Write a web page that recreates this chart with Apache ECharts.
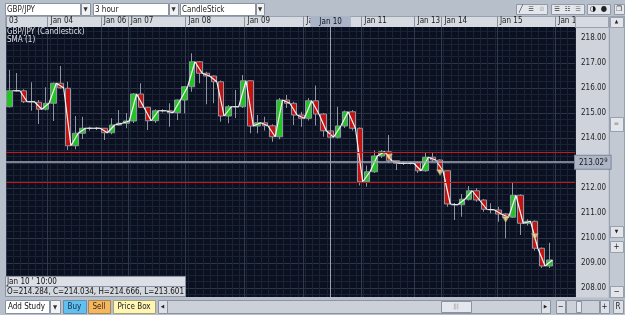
<!DOCTYPE html>
<html>
<head>
<meta charset="utf-8">
<script src="https://cdn.jsdelivr.net/npm/echarts@6/dist/echarts.min.js"></script>
<style>
html, body { margin: 0; padding: 0; background: #b7bfcb; }
#chart { width: 625px; height: 315px; }
</style>
</head>
<body>
<div id="chart"></div>
<script>
// 3 hour GBP/JPY candles, [open, close, low, high]
var ohlc = [
  [215.25, 215.89, 215.22, 216.72], [215.89, 215.89, 215.85, 216.60], [215.89, 215.45, 215.40, 215.95],
  [215.45, 215.45, 215.09, 216.23], [215.43, 215.15, 214.56, 215.52], [215.15, 215.39, 215.10, 216.03],
  [215.39, 216.19, 214.68, 216.22], [216.19, 216.01, 215.98, 216.88], [215.99, 213.69, 213.52, 216.25],
  [213.69, 214.19, 213.55, 214.88], [214.19, 214.39, 213.96, 214.85], [214.39, 214.39, 214.30, 214.45],
  [214.39, 214.39, 214.32, 214.44], [214.39, 214.21, 213.92, 214.40], [214.21, 214.52, 214.15, 214.79],
  [214.52, 214.59, 214.50, 215.12], [214.59, 214.68, 214.39, 214.99], [214.68, 215.76, 214.60, 215.80],
  [215.76, 215.23, 215.20, 216.19], [215.23, 214.69, 214.32, 215.25], [214.69, 215.09, 214.60, 215.15],
  [215.09, 215.09, 215.02, 215.15], [215.09, 215.01, 214.45, 215.39], [215.01, 215.52, 214.72, 215.55],
  [215.52, 216.05, 214.99, 216.08], [216.05, 217.05, 215.85, 217.39], [217.05, 216.59, 216.19, 217.08],
  [216.59, 216.48, 215.35, 216.65], [216.48, 216.25, 215.39, 216.50], [216.25, 214.88, 214.65, 216.30],
  [214.88, 215.25, 214.59, 215.32], [215.25, 215.25, 214.80, 215.92], [215.25, 216.29, 215.20, 216.52],
  [216.29, 214.48, 214.19, 216.30], [214.48, 214.61, 214.19, 214.92], [214.61, 214.49, 214.30, 214.85],
  [214.49, 214.05, 213.85, 214.55], [214.05, 215.52, 213.95, 215.60], [215.52, 215.39, 215.20, 215.72],
  [215.39, 214.92, 214.52, 215.45], [214.92, 214.79, 214.45, 215.05], [214.79, 215.49, 214.70, 215.60],
  [215.49, 214.96, 214.50, 216.10], [214.96, 214.29, 214.05, 215.00], [214.284, 214.034, 213.601, 214.666],
  [214.03, 214.48, 213.98, 215.25], [214.48, 215.05, 214.40, 215.10], [215.05, 214.39, 214.30, 215.12],
  [214.39, 212.25, 212.10, 214.42], [212.25, 212.65, 212.05, 212.90], [212.65, 213.28, 212.60, 213.50],
  [213.28, 213.45, 213.20, 213.52], [213.45, 213.09, 213.00, 214.12], [213.09, 212.99, 212.72, 213.10],
  [212.99, 212.99, 212.92, 213.05], [212.99, 212.99, 212.94, 213.04], [213.01, 212.69, 212.60, 213.05],
  [212.69, 213.23, 212.65, 213.41], [213.23, 213.12, 213.05, 213.41], [213.12, 212.69, 212.60, 213.15],
  [212.69, 211.36, 211.25, 212.70], [211.33, 211.33, 210.72, 211.40], [211.33, 211.55, 210.85, 211.76],
  [211.55, 211.89, 211.50, 212.08], [211.89, 211.52, 211.45, 211.99], [211.52, 211.15, 211.05, 211.55],
  [211.13, 211.13, 210.99, 211.39], [211.12, 210.96, 210.65, 211.25], [210.96, 210.83, 209.99, 211.00],
  [210.83, 211.71, 210.80, 212.21], [211.71, 210.59, 210.12, 211.75], [210.59, 210.67, 210.50, 210.75],
  [210.67, 209.59, 209.50, 210.70], [209.59, 208.88, 208.80, 209.62], [208.88, 209.12, 208.80, 209.81]
];
var slots = 78;                       // 3 empty slots after the last candle
var dayLabels = ['03', 'Jan 04', 'Jan 06', 'Jan 07', 'Jan 08', 'Jan 09', 'Jan 10', 'Jan 11', 'Jan 13', 'Jan 14', 'Jan 15', 'Jan 16'];
var dayStarts = [-0.5, 5.2, 12.5, 16.2, 24.1, 32.2, 40.25, 48.2, 55.5, 59.2, 66.8, 74.8];
var priceTicks = [208, 209, 210, 211, 212, 213, 214, 215, 216, 217, 218];
var levels = [213.41, 212.23];        // red horizontal lines
var lastPrice = 213.029;
var alertIdx = [52, 59, 68, 72];
var alertVal = [213.24, 212.62, 210.74, 210.06];
var cursorIdx = 44;
var cursorDay = 'Jan 10';
var cursorTime = "Jan 10 ' 10:00";

var FONT = '"DejaVu Sans Condensed", "DejaVu Sans", sans-serif';
var closes = ohlc.map(function (d, i) { return [i + 0.4, d[1]]; });   // SMA(1)
var cats = [];
for (var i = 0; i < slots; i++) cats.push(String(i));
var minorTicks = [];
for (var v = 207.75; v < 218.44; v += 0.25) {
  if (Math.abs(v - Math.round(v)) > 0.01) minorTicks.push(v);
}

function box(x, y, w, h, fill, stroke, z) {
  return { type: 'rect', z: z == null ? 5 : z, shape: { x: x + 0.5, y: y + 0.5, width: w, height: h },
    style: { fill: fill, stroke: stroke || null, lineWidth: 1 } };
}
function txt(s, x, y, color, size, align, z) {
  return { type: 'text', z: z == null ? 6 : z, x: x, y: y,
    style: { text: s, fill: color || '#1c1c1c', font: (size || 8) + 'px ' + FONT,
      align: align || 'left', verticalAlign: 'middle' } };
}

var c = ohlc[cursorIdx];
var ohlcText = 'O=' + c[0].toFixed(3) + ', C=' + c[1].toFixed(3) + ', H=' + c[3].toFixed(3) + ', L=' + c[2].toFixed(3);
var priceStr = lastPrice.toFixed(3);

var graphics = [
  // header row and price panel backgrounds
  box(5, 16, 570, 11, '#d6dae1', '#9aa2b0', -1),
  box(575, 27, 33, 270, '#cfd4dc', null, -1),
  box(575, 16, 33, 11, '#d6dae1', '#9aa2b0', 10),
  // top dropdowns
  box(5, 3, 75, 12, '#ffffff', '#8b93a1'), box(81, 3, 9, 12, '#f1f2f4', '#8b93a1'),
  txt('GBP/JPY', 7, 9.5), txt('\u25BC', 85.5, 9.5, '#333', 6, 'center'),
  box(93, 3, 75, 12, '#ffffff', '#8b93a1'), box(169, 3, 9, 12, '#f1f2f4', '#8b93a1'),
  txt('3 hour', 95, 9.5), txt('\u25BC', 173.5, 9.5, '#333', 6, 'center'),
  box(180, 3, 75, 12, '#ffffff', '#8b93a1'), box(256, 3, 8, 12, '#f1f2f4', '#8b93a1'),
  txt('CandleStick', 182, 9.5), txt('\u25BC', 260, 9.5, '#333', 6, 'center'),
  // top right tool icons
  box(516, 4, 31, 10, '#e3e6eb', '#9299a6'), txt('\u2571', 521, 9, '#222', 7, 'center'),
  txt('\u2630', 531, 9, '#444', 7, 'center'), txt('\u2298', 542, 9, '#aaa', 7, 'center'),
  box(551, 4, 33, 10, '#e3e6eb', '#9299a6'), txt('\u2630', 557, 9, '#333', 7, 'center'),
  txt('\u2637', 567.5, 9, '#333', 7, 'center'), txt('\u2630', 578, 9, '#777', 7, 'center'),
  box(587, 4, 23, 10, '#e3e6eb', '#9299a6'), txt('\u25D1', 593, 9, '#111', 8, 'center'),
  txt('\u25CF', 604, 9, '#222', 8, 'center'),
  box(614, 4, 10, 10, '#e3e6eb', '#9299a6'), txt('\u2750', 619, 9, '#222', 7, 'center'),
  // right scrollbar column
  box(609, 16, 15, 281, '#c3c9d3', '#99a1ae', 1),
  box(610, 17, 13, 10, '#e2e5ea', '#99a1ae', 2), txt('\u25B2', 616.5, 22, '#222', 5, 'center', 3),
  box(610, 117, 13, 14, '#e2e5ea', '#99a1ae', 2), txt('=', 616.5, 124, '#777', 7, 'center', 3),
  box(610, 226, 13, 11, '#e2e5ea', '#99a1ae', 2), txt('\u25BC', 616.5, 231.5, '#222', 5, 'center', 3),
  box(610, 241, 13, 11, '#e2e5ea', '#99a1ae', 2), txt('+', 616.5, 246.5, '#222', 8, 'center', 3),
  box(610, 286, 13, 11, '#e2e5ea', '#99a1ae', 2), txt('\u2212', 616.5, 291.5, '#222', 8, 'center', 3),
  // plot captions
  txt('GBP/JPY (Candlestick)', 7, 32, '#dde1e8', 8, 'left', 20),
  txt('SMA (1)', 7, 40, '#dde1e8', 8, 'left', 20),
  // cursor readout
  box(5, 276, 180, 10, '#dcdfe5', '#8a93a3', 20), txt(cursorTime, 7, 281.5, '#111', 8, 'left', 21),
  box(5, 286, 180, 10, '#d3d7de', '#8a93a3', 20), txt(ohlcText, 7, 291.5, '#111', 8, 'left', 21),
  // bottom bar
  box(5, 300, 44, 13, '#ffffff', '#8b93a1'), txt('Add Study', 8, 307, '#111'),
  box(50, 300, 10, 13, '#f1f2f4', '#8b93a1'), txt('\u25BC', 55, 307, '#333', 6, 'center'),
  box(63, 300, 23, 13, '#5fc0f2', '#6a8aa6'), txt('Buy', 74.5, 307, '#1a2a40', 8, 'center'),
  box(88, 300, 22, 13, '#f5b660', '#a88650'), txt('Sell', 99, 307, '#3a2810', 8, 'center'),
  box(113, 300, 42, 13, '#fff6b3', '#a8a27a'), txt('Price Box', 134, 307, '#222', 8, 'center'),
  box(158, 300, 9, 13, '#dde0e6', '#8b93a1'), txt('\u25C0', 162.5, 307, '#222', 5, 'center'),
  box(167, 300, 374, 13, '#ccd1d9', '#8b93a1'),
  box(441, 301, 30, 11, '#e4e7ec', '#8b93a1'), txt('|||', 456, 306.5, '#888', 6, 'center'),
  box(541, 300, 9, 13, '#dde0e6', '#8b93a1'), txt('\u25B6', 545.5, 307, '#222', 5, 'center'),
  box(556, 300, 9, 13, '#dde0e6', '#8b93a1'), txt('\u2212', 560.5, 307, '#222', 8, 'center'),
  box(566, 300, 33, 13, '#ccd1d9', '#8b93a1'), box(576, 301, 5, 11, '#e4e7ec', '#8b93a1'),
  box(600, 300, 9, 13, '#dde0e6', '#8b93a1'), txt('+', 604.5, 307, '#222', 8, 'center'),
  box(613, 300, 10, 13, '#dde0e6', '#8b93a1'), txt('R', 618, 307, '#222', 8, 'center')
];

var chart = echarts.init(document.getElementById('chart'), null, { renderer: 'canvas' });
chart.setOption({
  animation: false,
  backgroundColor: '#b7bfcb',
  grid: { left: 6, right: 50, top: 27, bottom: 18, show: true, backgroundColor: '#0a101f', borderWidth: 0 },
  xAxis: [
    {
      type: 'category', data: cats, boundaryGap: true, position: 'bottom',
      axisLine: { show: false }, axisTick: { show: false }, axisLabel: { show: false },
      splitLine: { show: true, interval: 0, lineStyle: { color: '#1a2335', width: 1 } }
    },
    {
      type: 'value', min: -0.5, max: slots - 0.5, position: 'top',
      axisLine: { show: false },
      axisTick: { show: true, customValues: dayStarts, inside: false, length: 11, lineStyle: { color: '#8c94a3' } },
      axisLabel: {
        customValues: dayStarts, margin: 2, align: 'left', padding: [0, 0, 0, 3],
        color: '#1b1b1b', fontSize: 8, fontFamily: FONT,
        formatter: function (val) { return dayLabels[dayStarts.indexOf(val)]; }
      },
      splitLine: { show: true, lineStyle: { color: '#2f394d', width: 1 } }
    }
  ],
  yAxis: [
    {
      type: 'value', position: 'right', min: 207.64, max: 218.44, scale: true,
      axisLine: { show: false },
      axisTick: { show: false, customValues: priceTicks },
      axisLabel: {
        customValues: priceTicks, margin: 6, color: '#1e1e1e', fontSize: 8, fontFamily: FONT,
        formatter: function (val) { return val.toFixed(2); }
      },
      splitLine: { show: true, lineStyle: { color: '#2d3649', width: 1 } }
    },
    {
      type: 'value', position: 'right', min: 207.64, max: 218.44, scale: true,
      axisLine: { show: false }, axisLabel: { show: false },
      axisTick: { show: false, customValues: minorTicks },
      splitLine: { show: true, lineStyle: { color: '#1a2335', width: 1 } }
    }
  ],
  series: [
    {
      type: 'candlestick', xAxisIndex: 0, yAxisIndex: 0, data: ohlc, barWidth: 6,
      itemStyle: { color: '#22c322', color0: '#c3120f', borderColor: '#8e95a3', borderColor0: '#8e95a3', borderWidth: 1 },
      markLine: {
        symbol: ['none', 'none'], silent: true, animation: false,
        label: { show: false },
        data: [
          { yAxis: levels[0], lineStyle: { color: '#c8161a', width: 1, type: 'solid' } },
          { yAxis: levels[1], lineStyle: { color: '#c8161a', width: 1, type: 'solid' } },
          {
            yAxis: lastPrice, lineStyle: { color: '#a2aabb', width: 1.5, type: 'solid' },
            label: {
              show: true, position: 'end', distance: 0,
              formatter: priceStr.slice(0, -1) + '{s|' + priceStr.slice(-1) + '}',
              backgroundColor: '#adb6c6', borderColor: '#7d879a', borderWidth: 1,
              padding: [2, 3, 1, 4], color: '#1b1b1b', fontSize: 8, fontFamily: FONT,
              rich: { s: { fontSize: 6, padding: [0, 0, 4, 0], color: '#1b1b1b', fontFamily: FONT } }
            }
          },
          {
            xAxis: cursorIdx, lineStyle: { color: '#9aa2b2', width: 1, type: 'solid' },
            label: {
              show: true, position: 'end', distance: 0, formatter: cursorDay,
              backgroundColor: '#a9b4c8', padding: [2, 9, 1, 9], color: '#111', fontSize: 8, fontFamily: FONT
            }
          }
        ]
      }
    },
    {
      type: 'line', name: 'SMA (1)', xAxisIndex: 1, yAxisIndex: 0, data: closes, z: 3,
      showSymbol: false, symbol: 'none',
      lineStyle: { color: '#f4f4f4', width: 1.2 }
    },
    {
      type: 'scatter', xAxisIndex: 0, yAxisIndex: 0, z: 4,
      data: alertIdx.map(function (idx, k) { return [idx, alertVal[k]]; }),
      symbol: 'triangle', symbolRotate: 180, symbolSize: [7, 6],
      itemStyle: { color: '#f2da92', borderColor: '#9a8a5a', borderWidth: 0.5 }
    }
  ],
  graphic: graphics
});
</script>
</body>
</html>
